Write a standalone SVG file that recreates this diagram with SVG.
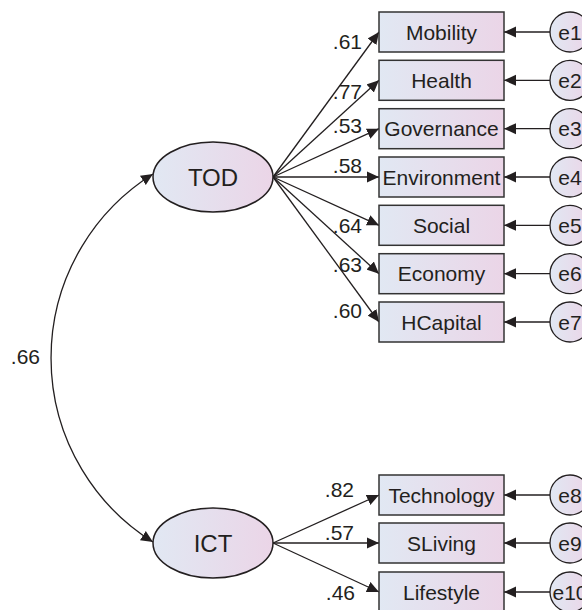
<svg xmlns="http://www.w3.org/2000/svg" width="582" height="610" viewBox="0 0 582 610">
<defs>
<linearGradient id="g" x1="0" y1="0" x2="1" y2="0">
<stop offset="0" stop-color="#e1e8f3"/>
<stop offset="1" stop-color="#ebd5e7"/>
</linearGradient>
<marker id="ah" markerUnits="userSpaceOnUse" markerWidth="13" markerHeight="12" refX="12" refY="5.5" orient="auto-start-reverse" viewBox="0 0 13 11">
<path d="M0,0 L12,5.5 L0,11 z" fill="#231f20"/>
</marker>
<style>
.box{fill:url(#g);stroke:#333;stroke-width:1.5}
.lat{fill:url(#g);stroke:#231f20;stroke-width:1.5}
.err{fill:url(#g);stroke:#231f20;stroke-width:1.3}
.t{font-family:"Liberation Sans",Arial,sans-serif;font-size:21px;fill:#231f20;text-anchor:middle}
.tl{font-family:"Liberation Sans",Arial,sans-serif;font-size:24px;fill:#231f20;text-anchor:middle}
.n{font-family:"Liberation Sans",Arial,sans-serif;font-size:21px;fill:#231f20;text-anchor:end}
.c{fill:none;stroke:#231f20;stroke-width:1.3;marker-end:url(#ah)}
.cc{fill:none;stroke:#231f20;stroke-width:1.3;marker-start:url(#ah);marker-end:url(#ah)}
</style>
</defs>
<g id="connectors">
<path class="cc" d="M153,174 A217,217 0 0 0 153,542"/>
<line class="c" x1="273" y1="177" x2="379" y2="32"/>
<line class="c" x1="273" y1="177" x2="379" y2="80.3"/>
<line class="c" x1="273" y1="177" x2="379" y2="128.7"/>
<line class="c" x1="273" y1="177" x2="379" y2="177"/>
<line class="c" x1="273" y1="177" x2="379" y2="225.3"/>
<line class="c" x1="273" y1="177" x2="379" y2="273.7"/>
<line class="c" x1="273" y1="177" x2="379" y2="322"/>
<line class="c" x1="273" y1="543" x2="379" y2="495"/>
<line class="c" x1="273" y1="543" x2="379" y2="543"/>
<line class="c" x1="273" y1="543" x2="379" y2="592"/>
<line class="c" x1="550" y1="32" x2="504" y2="32"/>
<line class="c" x1="550" y1="80.3" x2="504" y2="80.3"/>
<line class="c" x1="550" y1="128.7" x2="504" y2="128.7"/>
<line class="c" x1="550" y1="177" x2="504" y2="177"/>
<line class="c" x1="550" y1="225.3" x2="504" y2="225.3"/>
<line class="c" x1="550" y1="273.7" x2="504" y2="273.7"/>
<line class="c" x1="550" y1="322" x2="504" y2="322"/>
<line class="c" x1="550" y1="495" x2="504" y2="495"/>
<line class="c" x1="550" y1="543" x2="504" y2="543"/>
<line class="c" x1="550" y1="592" x2="504" y2="592"/>
<text class="n" x="40" y="364">.66</text>
<text class="n" x="362" y="49">.61</text>
<text class="n" x="362" y="99">.77</text>
<text class="n" x="362" y="133">.53</text>
<text class="n" x="362" y="173">.58</text>
<text class="n" x="362" y="233">.64</text>
<text class="n" x="362" y="272">.63</text>
<text class="n" x="362" y="318">.60</text>
<text class="n" x="354" y="497">.82</text>
<text class="n" x="354" y="540">.57</text>
<text class="n" x="355" y="600">.46</text>
</g>
<g id="TOD"><ellipse class="lat" cx="213" cy="177" rx="60" ry="35"/><text class="tl" x="213" y="185.5">TOD</text></g>
<g id="ICT"><ellipse class="lat" cx="213" cy="543" rx="60" ry="35"/><text class="tl" x="213" y="551.5">ICT</text></g>
<g id="Mobility"><rect class="box" x="379" y="12" width="125" height="40"/><text class="t" x="441.5" y="39.5">Mobility</text></g>
<g id="Health"><rect class="box" x="379" y="60.3" width="125" height="40"/><text class="t" x="441.5" y="87.8">Health</text></g>
<g id="Governance"><rect class="box" x="379" y="108.7" width="125" height="40"/><text class="t" x="441.5" y="136.2">Governance</text></g>
<g id="Environment"><rect class="box" x="379" y="157" width="125" height="40"/><text class="t" x="441.5" y="184.5">Environment</text></g>
<g id="Social"><rect class="box" x="379" y="205.3" width="125" height="40"/><text class="t" x="441.5" y="232.8">Social</text></g>
<g id="Economy"><rect class="box" x="379" y="253.7" width="125" height="40"/><text class="t" x="441.5" y="281.2">Economy</text></g>
<g id="HCapital"><rect class="box" x="379" y="302" width="125" height="40"/><text class="t" x="441.5" y="329.5">HCapital</text></g>
<g id="Technology"><rect class="box" x="379" y="475" width="125" height="40"/><text class="t" x="441.5" y="502.5">Technology</text></g>
<g id="SLiving"><rect class="box" x="379" y="523" width="125" height="40"/><text class="t" x="441.5" y="550.5">SLiving</text></g>
<g id="Lifestyle"><rect class="box" x="379" y="572" width="125" height="40"/><text class="t" x="441.5" y="599.5">Lifestyle</text></g>
<g id="e1"><circle class="err" cx="570" cy="32" r="20"/><text class="t" x="570" y="39.5">e1</text></g>
<g id="e2"><circle class="err" cx="570" cy="80.3" r="20"/><text class="t" x="570" y="87.8">e2</text></g>
<g id="e3"><circle class="err" cx="570" cy="128.7" r="20"/><text class="t" x="570" y="136.2">e3</text></g>
<g id="e4"><circle class="err" cx="570" cy="177" r="20"/><text class="t" x="570" y="184.5">e4</text></g>
<g id="e5"><circle class="err" cx="570" cy="225.3" r="20"/><text class="t" x="570" y="232.8">e5</text></g>
<g id="e6"><circle class="err" cx="570" cy="273.7" r="20"/><text class="t" x="570" y="281.2">e6</text></g>
<g id="e7"><circle class="err" cx="570" cy="322" r="20"/><text class="t" x="570" y="329.5">e7</text></g>
<g id="e8"><circle class="err" cx="570" cy="495" r="20"/><text class="t" x="570" y="502.5">e8</text></g>
<g id="e9"><circle class="err" cx="570" cy="543" r="20"/><text class="t" x="570" y="550.5">e9</text></g>
<g id="e10"><circle class="err" cx="570" cy="592" r="20"/><text class="t" x="570" y="599.5">e10</text></g>
</svg>
